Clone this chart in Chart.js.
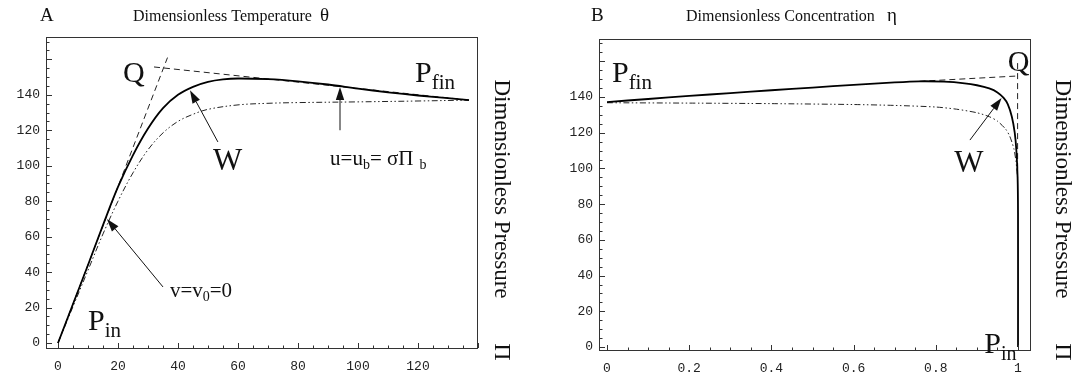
<!DOCTYPE html>
<html><head><meta charset="utf-8">
<script src="https://cdn.jsdelivr.net/npm/chart.js@4.4.0/dist/chart.umd.min.js"></script>
<style>
html,body{margin:0;padding:0;background:#fff;}
#wrap{position:relative;width:1082px;height:376px;overflow:hidden;background:#fff;}
.pane{position:absolute;top:0;width:541px;height:376px;}
</style></head><body>
<div id="wrap">
<div class="pane" style="left:0"><canvas id="cA" width="541" height="376"></canvas></div>
<div class="pane" style="left:541px"><canvas id="cB" width="541" height="376"></canvas></div>
</div>
<script>
// ---------- Panel A data (theta vs Pi) ----------
const aSolidTheta = [0,5,10,15,20,25,30,35,40,45,50,55,60,70,80,90,100,110,120,130,137];
const aSolidPi    = [0,22,44,66.5,88,106,121,132.5,140,144.5,147.3,148.7,149.2,148.8,147.6,145.8,143.5,141.4,139.6,138.1,137];
const aDashDotTheta = [0,5,10,15,20,25,30,35,40,45,50,60,70,80,100,120,137];
const aDashDotPi    = [0,20.5,41,61.5,80,96,109,118.5,125,129,131.8,134.3,135.2,135.6,136,136.5,137];
const aTan1Theta = [0,36.5];
const aTan1Pi    = [0,161];
const aTan2Theta = [32,137];
const aTan2Pi    = [155.7,137];
const aXTicks = [0,20,40,60,80,100,120];
const aYTicks = [0,20,40,60,80,100,120,140];

// ---------- Panel B data (eta vs Pi) ----------
const bSolidEta = [0,0.1,0.2,0.3,0.4,0.5,0.6,0.7,0.76,0.82,0.87,0.9,0.93,0.95,0.965,0.975,0.985,0.992,0.996,0.999,1.0,1.0];
const bSolidPi  = [137.2,138.9,140.6,142.2,143.8,145.3,146.8,148.2,148.8,148.6,147.7,146.6,144.8,142.6,139.5,136,129,120,110,95,75,0];
const bDashDotEta = [0,0.2,0.4,0.6,0.7,0.8,0.85,0.9,0.93,0.95,0.97,0.98,0.99,0.995,0.999];
const bDashDotPi  = [136.8,136.6,136.3,135.8,135.3,134.4,133.2,131.2,129,126.5,122,118,111,104,95];
const bTan1Eta = [0.76,1.0];
const bTan1Pi  = [148.8,151.8];
const bTan2Eta = [0.999,0.999];
const bTan2Pi  = [159,100];
const bXTicks = [0,0.2,0.4,0.6,0.8,1];
const bYTicks = [0,20,40,60,80,100,120,140];

function pts(xs, ys){ return xs.map((x,i)=>({x:x, y:ys[i]})); }

const SERIF = '"Liberation Serif","Times New Roman",serif';
const MONO = '"Liberation Mono","Courier New",monospace';

function drawParts(ctx, x, y, parts){
  let cx = x;
  for (const p of parts){
    ctx.font = (p.size) + 'px ' + SERIF;
    ctx.fillText(p.s, cx, y + (p.dy||0));
    cx += ctx.measureText(p.s).width + (p.gap||0);
  }
}
function arrow(ctx, x1, y1, x2, y2){
  const ang = Math.atan2(y2-y1, x2-x1), L = 13, W = 4.2;
  const bx = x2 - L*Math.cos(ang), by = y2 - L*Math.sin(ang);
  ctx.beginPath(); ctx.moveTo(x1,y1); ctx.lineTo(bx,by); ctx.lineWidth=1; ctx.stroke();
  ctx.beginPath(); ctx.moveTo(x2,y2);
  ctx.lineTo(bx - W*Math.sin(ang), by + W*Math.cos(ang));
  ctx.lineTo(bx + W*Math.sin(ang), by - W*Math.cos(ang));
  ctx.closePath(); ctx.fill();
}

function decoPlugin(cfg){
  return {
    id:'deco',
    afterDraw(chart){
      const ctx = chart.ctx, a = chart.chartArea, xs = chart.scales.x, ys = chart.scales.y;
      ctx.save();
      ctx.strokeStyle = '#333'; ctx.fillStyle = '#111'; ctx.lineWidth = 1;
      // frame
      ctx.strokeRect(Math.round(a.left)+0.5, Math.round(a.top)+0.5, Math.round(a.right-a.left)-1, Math.round(a.bottom-a.top)-1);
      // inside ticks
      ctx.beginPath();
      for (let v = cfg.xTicks[0]; v <= xs.max + 1e-9; v += cfg.xMinor){
        const px = Math.round(xs.getPixelForValue(v))+0.5;
        const major = Math.abs(v/cfg.xMajor - Math.round(v/cfg.xMajor)) < 1e-6;
        ctx.moveTo(px, a.bottom-1); ctx.lineTo(px, a.bottom-1-(major?5:2.5));
      }
      for (let v = cfg.yTicks[0]; v <= ys.max + 1e-9; v += cfg.yMinor){
        const py = Math.round(ys.getPixelForValue(v))+0.5;
        const major = Math.abs(v/cfg.yMajor - Math.round(v/cfg.yMajor)) < 1e-6;
        ctx.moveTo(a.left+1, py); ctx.lineTo(a.left+1+(major?5:2.5), py);
      }
      ctx.stroke();
      // titles
      ctx.textBaseline = 'alphabetic'; ctx.textAlign = 'left'; ctx.fillStyle = '#111';
      drawParts(ctx, cfg.letterX, 21, [{s:cfg.letter, size:19}]);
      drawParts(ctx, cfg.titleX, 21, [{s:cfg.title, size:16}]);
      drawParts(ctx, cfg.symX, 21, [{s:cfg.sym, size:19}]);
      // side label (rotated)
      ctx.save();
      ctx.translate(cfg.sideX, cfg.sideY); ctx.rotate(Math.PI/2);
      ctx.font = '23px ' + SERIF; ctx.textAlign = 'center'; ctx.textBaseline = 'middle';
      ctx.fillText('Dimensionless Pressure', 0, 0);
      ctx.restore();
      ctx.save();
      ctx.translate(cfg.sideX, cfg.piY); ctx.rotate(Math.PI/2);
      ctx.font = '24px ' + SERIF; ctx.textAlign = 'center'; ctx.textBaseline = 'middle';
      ctx.fillText('\u03A0', 0, 0);
      ctx.restore();
      // annotations in data coordinates
      ctx.textAlign = 'left'; ctx.textBaseline = 'alphabetic';
      for (const n of cfg.notes){
        const x = xs.getPixelForValue(n.x), y = ys.getPixelForValue(n.y);
        drawParts(ctx, x, y, n.parts);
      }
      ctx.strokeStyle = '#111'; ctx.fillStyle = '#111';
      for (const r of cfg.arrows){
        arrow(ctx, xs.getPixelForValue(r.x1), ys.getPixelForValue(r.y1), xs.getPixelForValue(r.x2), ys.getPixelForValue(r.y2));
      }
      ctx.restore();
    }
  };
}

const SOLID = {borderColor:'#000', borderWidth:1.8, pointRadius:0, tension:0.35, fill:false};
const DASHDOT = {borderColor:'#222', borderWidth:1, pointRadius:0, tension:0.35, fill:false, borderDash:[6,2.5,1.5,2.5,1.5,2.5]};
const DASHED = {borderColor:'#222', borderWidth:1, pointRadius:0, tension:0, fill:false, borderDash:[6,4]};

function makeChart(id, ds, xr, yr, xTicks, yTicks, yW, xH, pad, deco, xFmt){
  return new Chart(document.getElementById(id), {
    type:'line',
    data:{datasets: ds},
    options:{
      responsive:false, animation:false, devicePixelRatio:1,
      layout:{padding:pad},
      plugins:{legend:{display:false}, tooltip:{enabled:false}, title:{display:false}},
      scales:{
        x:{type:'linear', min:xr[0], max:xr[1],
           afterFit(s){ s.height = xH; },
           afterBuildTicks(s){ s.ticks = xTicks.map(v=>({value:v})); },
           grid:{display:false, drawTicks:false}, border:{display:false},
           ticks:{autoSkip:false, maxRotation:0, padding:10, color:'#222', font:{family:MONO, size:13}, callback:xFmt}},
        y:{type:'linear', min:yr[0], max:yr[1],
           afterFit(s){ s.width = yW; },
           afterBuildTicks(s){ s.ticks = yTicks.map(v=>({value:v})); },
           grid:{display:false, drawTicks:false}, border:{display:false},
           ticks:{autoSkip:false, padding:6, color:'#222', font:{family:MONO, size:13}, callback:v=>String(v)}}
      }
    },
    plugins:[decoPlugin(deco)]
  });
}

makeChart('cA', [
  Object.assign({data:pts(aSolidTheta, aSolidPi)}, SOLID),
  Object.assign({data:pts(aDashDotTheta, aDashDotPi)}, DASHDOT),
  Object.assign({data:pts(aTan1Theta, aTan1Pi)}, DASHED),
  Object.assign({data:pts(aTan2Theta, aTan2Pi)}, DASHED)
], [-4, 140], [-3.4, 172.6], aXTicks, aYTicks, 46, 27, {top:37, right:63, left:0, bottom:0}, {
  xTicks:aXTicks, yTicks:aYTicks, xMajor:20, xMinor:5, yMajor:20, yMinor:5,
  letter:'A', letterX:40, title:'Dimensionless Temperature', titleX:133, sym:'\u03B8', symX:320,
  sideX:501, sideY:189, piY:352,
  notes:[
    {x:21.7, y:147.2, parts:[{s:'Q', size:30}]},
    {x:119, y:147.2, parts:[{s:'P', size:30},{s:'fin', size:21, dy:7}]},
    {x:51.7, y:97.6, parts:[{s:'W', size:31}]},
    {x:90.7, y:100.4, parts:[{s:'u=u', size:21},{s:'b', size:14, dy:4},{s:'= \u03C3\u03A0', size:21, gap:6},{s:'b', size:14, dy:4}]},
    {x:37.3, y:25.9, parts:[{s:'v=v', size:21},{s:'0', size:14, dy:4},{s:'=0', size:21}]},
    {x:10, y:7.3, parts:[{s:'P', size:30},{s:'in', size:21, dy:7}]}
  ],
  arrows:[
    {x1:53.3, y1:113.4, x2:44, y2:142.5},
    {x1:94, y1:120, x2:94, y2:144.4},
    {x1:35, y1:31.6, x2:16.3, y2:70}
  ]
}, v=>String(v));

makeChart('cB', [
  Object.assign({data:pts(bSolidEta, bSolidPi)}, SOLID, {tension:0.25}),
  Object.assign({data:pts(bDashDotEta, bDashDotPi)}, DASHDOT, {tension:0.25}),
  Object.assign({data:pts(bTan1Eta, bTan1Pi)}, DASHED),
  Object.assign({data:pts(bTan2Eta, bTan2Pi)}, DASHED)
], [-0.0195, 1.0316], [-2.24, 172.5], bXTicks, bYTicks, 58, 25, {top:39, right:51, left:0, bottom:0}, {
  xTicks:bXTicks, yTicks:bYTicks, xMajor:0.2, xMinor:0.05, yMajor:20, yMinor:5,
  letter:'B', letterX:50, title:'Dimensionless Concentration', titleX:145, sym:'\u03B7', symX:346,
  sideX:521, sideY:189, piY:352,
  notes:[
    {x:0.012, y:148.4, parts:[{s:'P', size:30},{s:'fin', size:21, dy:7}]},
    {x:0.975, y:154.5, parts:[{s:'Q', size:30}]},
    {x:0.845, y:98, parts:[{s:'W', size:31}]},
    {x:0.918, y:-3.2, parts:[{s:'P', size:30},{s:'in', size:20, dy:7}]}
  ],
  arrows:[
    {x1:0.883, y1:115.9, x2:0.96, y2:139.5}
  ]
}, v=>String(v));
</script>
</body></html>
